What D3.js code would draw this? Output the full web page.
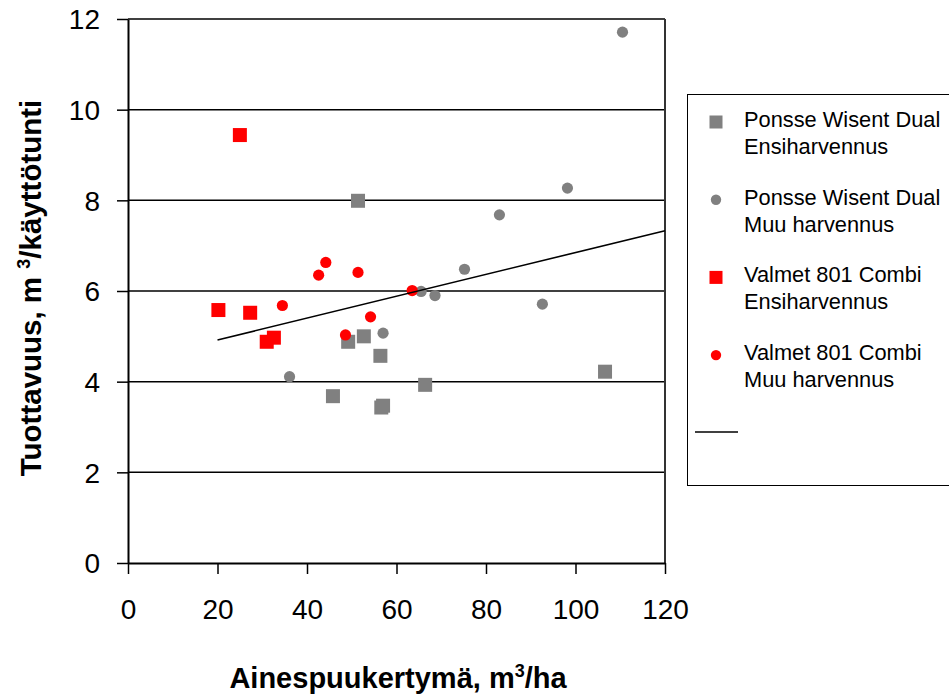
<!DOCTYPE html>
<html>
<head>
<meta charset="utf-8">
<script src="https://cdn.jsdelivr.net/npm/d3@7"></script>
<style>
  html, body { margin: 0; padding: 0; background: #fff; }
  svg { display: block; font-family: "Liberation Sans", Arial, sans-serif; }
</style>
</head>
<body>
<svg id="chart" width="949" height="695"></svg>
<script>
// ---- Data ----
const ponsseEnsiX = [51.4, 49.2, 52.7, 56.4, 45.8, 56.6, 57.0, 66.4, 106.6];
const ponsseEnsiY = [7.99, 4.88, 5.00, 4.57, 3.68, 3.43, 3.47, 3.93, 4.22];
const ponsseMuuX = [36.1, 57.0, 65.5, 68.6, 75.2, 83.0, 92.6, 98.2, 110.5];
const ponsseMuuY = [4.11, 5.07, 5.99, 5.90, 6.48, 7.68, 5.71, 8.27, 11.71];
const valmetEnsiX = [25.0, 20.2, 27.3, 31.0, 32.6];
const valmetEnsiY = [9.44, 5.58, 5.52, 4.88, 4.97];
const valmetMuuX = [34.5, 42.6, 44.2, 51.4, 54.2, 48.6, 63.5];
const valmetMuuY = [5.68, 6.35, 6.63, 6.41, 5.43, 5.03, 6.01];
const trendX = [20, 120];
const trendY = [4.92, 7.33];
const xTicks = [0, 20, 40, 60, 80, 100, 120];
const yTicks = [0, 2, 4, 6, 8, 10, 12];
const legendLabels = [
  ["Ponsse Wisent Dual", "Ensiharvennus"],
  ["Ponsse Wisent Dual", "Muu harvennus"],
  ["Valmet 801 Combi", "Ensiharvennus"],
  ["Valmet 801 Combi", "Muu harvennus"]
];

// ---- Layout ----
const svg = d3.select("#chart");
const x = d3.scaleLinear().domain([0, 120]).range([128, 665]);
const y = d3.scaleLinear().domain([0, 12]).range([563, 19]);
const GRAY = "#808080", RED = "#ff0000";

// gridlines
svg.append("g").selectAll("line")
  .data(yTicks.filter(d => d > 0))
  .join("line")
  .attr("x1", x(0)).attr("x2", x(120))
  .attr("y1", d => y(d)).attr("y2", d => y(d))
  .attr("stroke", "#000").attr("stroke-width", 1.5);

// right border
svg.append("line")
  .attr("x1", x(120)).attr("x2", x(120))
  .attr("y1", y(12)).attr("y2", y(0))
  .attr("stroke", "#333").attr("stroke-width", 2);

// axes
const xAxis = svg.append("g").attr("transform", `translate(0,${y(0)})`)
  .call(d3.axisBottom(x).tickValues(xTicks).tickSize(11).tickSizeOuter(0).tickPadding(25));
const yAxis = svg.append("g").attr("transform", `translate(${x(0)},0)`)
  .call(d3.axisLeft(y).tickValues(yTicks).tickSize(11).tickSizeOuter(0).tickPadding(17));
[xAxis, yAxis].forEach(g => {
  g.select(".domain").attr("stroke", "#000").attr("stroke-width", 2);
  g.selectAll(".tick line").attr("stroke", "#000").attr("stroke-width", 1.5);
  g.selectAll(".tick text").attr("fill", "#000")
    .style("font-family", "'Liberation Sans', Arial, sans-serif")
    .style("font-size", "28px");
});
xAxis.selectAll(".tick text").attr("dy", "0.71em");
yAxis.selectAll(".tick text").attr("dy", "0.35em");

// markers
const SQ = 14, R = 5.6;
function squares(xs, ys, color) {
  svg.append("g").selectAll("rect")
    .data(xs.map((v, i) => [v, ys[i]]))
    .join("rect")
    .attr("x", d => x(d[0]) - SQ / 2).attr("y", d => y(d[1]) - SQ / 2)
    .attr("width", SQ).attr("height", SQ)
    .attr("fill", color);
}
function circles(xs, ys, color) {
  svg.append("g").selectAll("circle")
    .data(xs.map((v, i) => [v, ys[i]]))
    .join("circle")
    .attr("cx", d => x(d[0])).attr("cy", d => y(d[1]))
    .attr("r", R).attr("fill", color);
}
squares(ponsseEnsiX, ponsseEnsiY, GRAY);
circles(ponsseMuuX, ponsseMuuY, GRAY);
squares(valmetEnsiX, valmetEnsiY, RED);
circles(valmetMuuX, valmetMuuY, RED);

// trend line
svg.append("path")
  .datum(trendX.map((v, i) => [v, trendY[i]]))
  .attr("d", d3.line().x(d => x(d[0])).y(d => y(d[1])))
  .attr("fill", "none").attr("stroke", "#000").attr("stroke-width", 1.6);

// axis titles
const xt = svg.append("text")
  .attr("x", 398).attr("y", 688).attr("text-anchor", "middle")
  .style("font-size", "29px").style("font-weight", "bold");
xt.append("tspan").text("Ainespuukertymä, m");
xt.append("tspan").attr("dy", -11).style("font-size", "18px").text("3");
xt.append("tspan").attr("dy", 11).text("/ha");

const yt = svg.append("text")
  .attr("transform", "translate(41,288) rotate(-90)")
  .attr("text-anchor", "middle")
  .style("font-size", "29.5px").style("font-weight", "bold");
yt.append("tspan").text("Tuottavuus, m ");
yt.append("tspan").attr("dy", -11).style("font-size", "18px").text("3");
yt.append("tspan").attr("dy", 11).text("/käyttötunti");

// legend
svg.append("rect")
  .attr("x", 687.5).attr("y", 94.5).attr("width", 270).attr("height", 391)
  .attr("fill", "#fff").attr("stroke", "#000").attr("stroke-width", 1);
const legendTypes = [["sq", GRAY], ["ci", GRAY], ["sq", RED], ["ci", RED]];
const ly0 = 122, lstep = 77.7;
legendTypes.forEach((t, i) => {
  const cy = ly0 + i * lstep;
  if (t[0] === "sq") {
    svg.append("rect").attr("x", 716 - 6.5).attr("y", cy - 6.5)
      .attr("width", 13).attr("height", 13).attr("fill", t[1]);
  } else {
    svg.append("circle").attr("cx", 716).attr("cy", cy).attr("r", 5.2).attr("fill", t[1]);
  }
  legendLabels[i].forEach((s, j) => {
    svg.append("text").attr("x", 744).attr("y", cy + 5 + j * 27)
      .style("font-size", "21.8px").attr("fill", "#000").text(s);
  });
});
svg.append("line")
  .attr("x1", 695).attr("x2", 738).attr("y1", 432).attr("y2", 432)
  .attr("stroke", "#000").attr("stroke-width", 1.5);
</script>
</body>
</html>
